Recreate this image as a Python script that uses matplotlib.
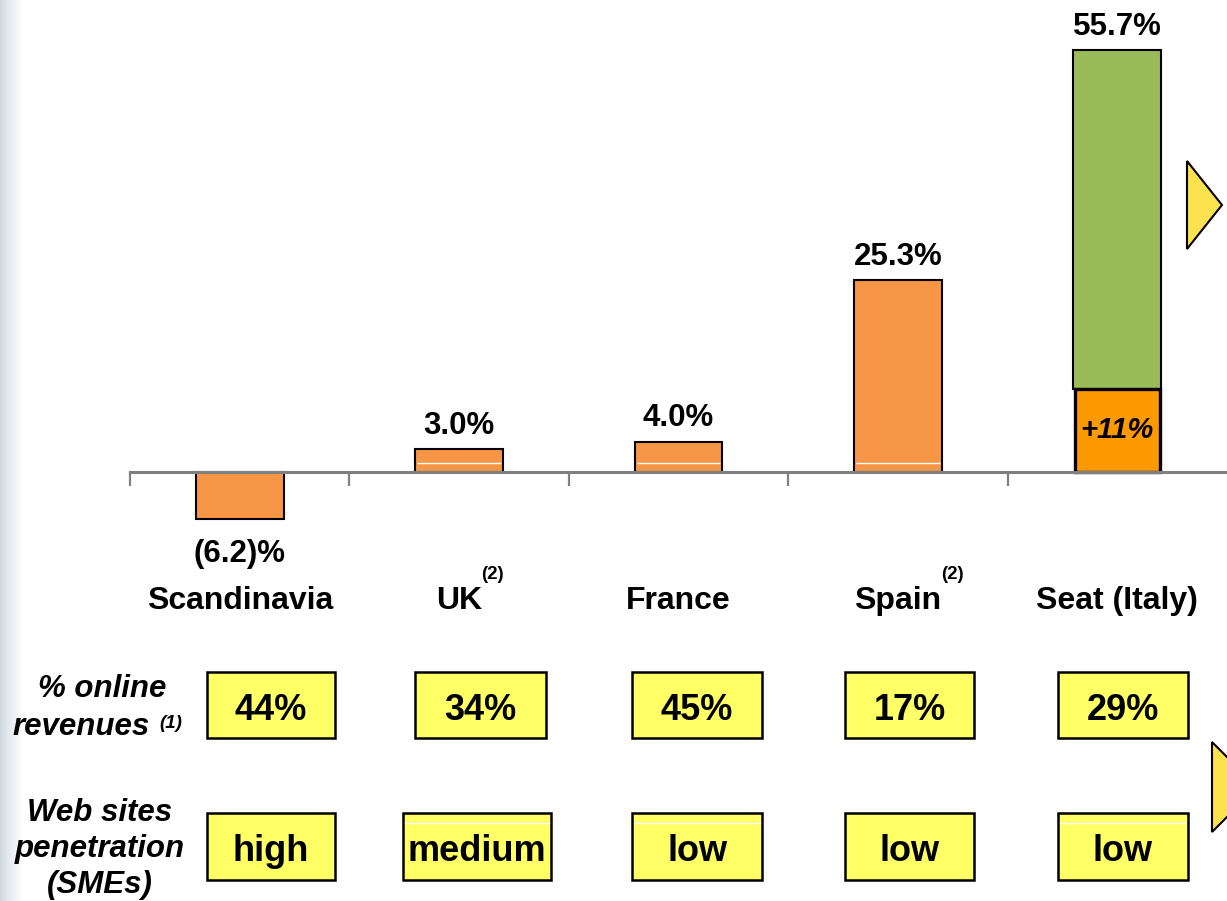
import numpy as np
import matplotlib
matplotlib.use("Agg")
import matplotlib.pyplot as plt
from matplotlib.patches import Rectangle, Polygon
from matplotlib.transforms import blended_transform_factory

plt.rcParams["font.family"] = ["Liberation Sans", "DejaVu Sans"]

# revenue growth by market, %
countries = ["Scandinavia", "UK", "France", "Spain", "Seat (Italy)"]
footnotes = ["", "(2)", "", "(2)", ""]
growth = [-6.2, 3.0, 4.0, 25.3, 55.7]
seat_online_growth = 11
online_share = ["44%", "34%", "45%", "17%", "29%"]
web_penetration = ["high", "medium", "low", "low", "low"]

ORANGE = "#F79646"
SEAT_ORANGE = "#FF9900"
GREEN = "#9BBB59"
BOX_YELLOW = "#FFFF66"
ARROW_YELLOW = "#FDE24F"
AXIS_GREY = "#808080"

W, H = 1227, 901
fig = plt.figure(figsize=(W / 100, H / 100), dpi=100)

# decoration layer in pixel units
bg = fig.add_axes([0, 0, 1, 1], zorder=0)
bg.set_xlim(0, W)
bg.set_ylim(H, 0)
bg.axis("off")
t = np.linspace(0, 1, 24) ** 0.7
base = np.array([0.80, 0.84, 0.88])
strip = (base + (1 - base) * t[:, None])[None, :, :]
bg.imshow(strip, extent=(0, 24, H, 0), aspect="auto")
bg.add_patch(Polygon([(1187, 161), (1222, 205), (1187, 249)],
                     fc=ARROW_YELLOW, ec="black", lw=1.5))
bg.add_patch(Polygon([(1212, 742), (1257, 787), (1212, 832)],
                     fc=ARROW_YELLOW, ec="black", lw=1.5))

# main chart
px_per_pct = 7.576
base_px = 472
ax = fig.add_axes([130 / W, 0, 1097 / W, 1], zorder=1)
ax.patch.set_alpha(0)
ax.set_xlim(-0.5, 4.5)
ax.set_ylim(-(H - base_px) / px_per_pct, base_px / px_per_pct)
for side in ("top", "right", "left"):
    ax.spines[side].set_visible(False)
ax.spines["bottom"].set_position(("data", 0))
ax.spines["bottom"].set_color(AXIS_GREY)
ax.spines["bottom"].set_linewidth(2.2)
ax.spines["bottom"].set_zorder(6)
ax.set_xticks(np.arange(-0.5, 4, 1))
ax.tick_params(axis="x", direction="out", length=10, width=1.6,
               color=AXIS_GREY, labelbottom=False)
ax.set_yticks([])

x = np.arange(len(countries))
bar_w = 0.4
ax.bar(x[:4], growth[:4], width=bar_w, color=ORANGE, edgecolor="black",
       linewidth=1.5, zorder=3)
ax.bar(x[4], growth[4] - seat_online_growth, bottom=seat_online_growth,
       width=bar_w, color=GREEN, edgecolor="black", linewidth=1.5, zorder=3)
ax.bar(x[4], seat_online_growth, width=bar_w * 0.97, color=SEAT_ORANGE,
       edgecolor="black", linewidth=2.4, zorder=4)
ax.text(x[4], seat_online_growth / 2, f"+{seat_online_growth}%",
        ha="center", va="center", fontsize=21, fontweight="bold",
        fontstyle="italic", zorder=5)

# thin highlight streaks near the bar bases
for xi in x[1:4]:
    ax.hlines(1.2, xi - bar_w / 2 + 0.01, xi + bar_w / 2 - 0.01,
              colors="white", linewidth=1, zorder=4)

for xi, v in zip(x, growth):
    if v >= 0:
        ax.annotate(f"{v:.1f}%", (xi, v), xytext=(0, 11),
                    textcoords="offset points", ha="center", va="baseline",
                    fontsize=22.5, fontweight="bold")
    else:
        ax.annotate(f"({-v:.1f})%", (xi, v), xytext=(0, -31),
                    textcoords="offset points", ha="center", va="baseline",
                    fontsize=22.5, fontweight="bold")

trans = blended_transform_factory(ax.transData, ax.transAxes)


def frac(px):
    return 1 - px / H


for xi, name, fn in zip(x, countries, footnotes):
    lbl = ax.text(xi, frac(609), name, transform=trans, ha="center",
                  va="baseline", fontsize=23, fontweight="bold")
    if fn:
        ax.annotate(fn, xy=(1, 1), xycoords=lbl, xytext=(-0.5, 8),
                    textcoords="offset points", ha="left", va="center",
                    fontsize=13.5, fontweight="bold")

# indicator boxes under each market
rows = [
    dict(values=online_share, top=672, bottom=738, baseline=720,
         left=[-0.15, -0.20, -0.21, -0.24, -0.27],
         width=[0.585, 0.595, 0.59, 0.585, 0.59], streaks=[]),
    dict(values=web_penetration, top=813, bottom=880, baseline=861,
         left=[-0.15, -0.257, -0.21, -0.24, -0.27],
         width=[0.585, 0.675, 0.59, 0.585, 0.59], streaks=[1, 2, 4]),
]
for row in rows:
    y0, y1 = frac(row["bottom"]), frac(row["top"])
    for i, (s, l, w) in enumerate(zip(row["values"], row["left"], row["width"])):
        ax.add_patch(Rectangle((x[i] + l, y0), w, y1 - y0, transform=trans,
                               fc=BOX_YELLOW, ec="black", lw=1.8, zorder=3))
        if i in row["streaks"]:
            ax.plot([x[i] + l + 0.01, x[i] + l + w - 0.01],
                    [frac(row["top"] + 10)] * 2, transform=trans,
                    color="white", lw=1, zorder=4)
        ax.text(x[i] + l + w / 2, frac(row["baseline"]), s, transform=trans,
                ha="center", va="baseline", fontsize=26, fontweight="bold",
                zorder=5)

# row captions
cap = dict(fontsize=22.5, fontweight="bold", fontstyle="italic", va="baseline")
fig.text(102 / W, frac(697), "% online", ha="center", **cap)
fig.text(150 / W, frac(735), "revenues", ha="right", **cap)
fig.text(159 / W, frac(728), "(1)", ha="left", va="baseline", fontsize=13.5,
         fontweight="bold", fontstyle="italic")
for line, py in zip(["Web sites", "penetration", "(SMEs)"], [821, 857, 893]):
    fig.text(100 / W, frac(py), line, ha="center", **cap)

fig.savefig("out.png", dpi=100)
